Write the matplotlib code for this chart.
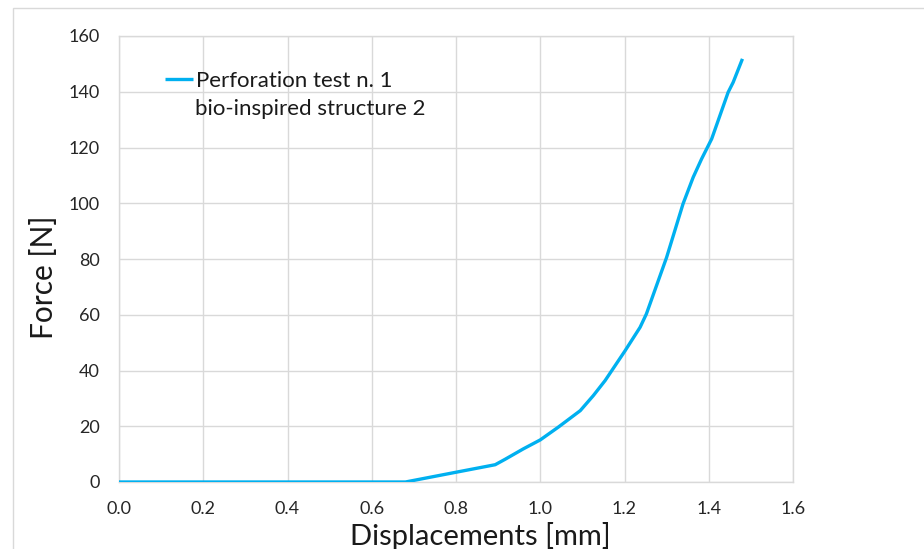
import matplotlib
matplotlib.use('Agg')
import matplotlib.pyplot as plt
from matplotlib.patches import Rectangle

# displacement [mm] and force [N]
disp = [0.0, 0.68, 0.80, 0.893, 0.916, 0.96, 1.0, 1.043, 1.095, 1.126,
        1.154, 1.201, 1.237, 1.252, 1.300, 1.339, 1.363, 1.383,
        1.395, 1.407, 1.446, 1.458, 1.48]
force = [0.0, 0.0, 3.5, 6.2, 8.1, 11.9, 15.1, 19.7, 25.6, 31.0,
         36.4, 47.0, 55.5, 60.3, 80.6, 99.8, 109.3, 115.9,
         119.5, 123.1, 139.8, 143.4, 151.8]
xticks = [0.0, 0.2, 0.4, 0.6, 0.8, 1.0, 1.2, 1.4, 1.6]
yticks = [0, 20, 40, 60, 80, 100, 120, 140, 160]

plt.rcParams['font.family'] = ['Lato', 'DejaVu Sans']
grey = '#d9d9d9'
blue = '#00b0f0'
ink = '#1a1a1a'

fig = plt.figure(figsize=(9.24, 5.49), dpi=100)
ax = fig.add_axes([119/924, 1 - 482/549, 674/924, 446/549])

# outer chart border (runs off the right/bottom of the image)
fig.patches.append(Rectangle((13/924, -0.1), 1.2, 1.1 - 8/549, transform=fig.transFigure,
                             fill=False, edgecolor=grey, lw=1.0))

ax.plot(disp, force, color=blue, lw=2.4, solid_capstyle='butt',
        solid_joinstyle='round', zorder=3, label='Perforation test n. 1')

ax.set_xlim(0, 1.6)
ax.set_ylim(0, 160)
ax.set_xticks(xticks)
ax.set_yticks(yticks)
ax.set_xticklabels([f'{v:.1f}' for v in xticks])
ax.set_yticklabels([str(v) for v in yticks])
ax.tick_params(length=0, labelsize=13, colors='#262626')
ax.tick_params(axis='y', pad=14)
ax.tick_params(axis='x', pad=14)
ax.grid(color=grey, lw=1.0, zorder=0)
for s in ax.spines.values():
    s.set_color(grey)
    s.set_linewidth(1.0)

# axis titles sit off-centre in the reference
ax.set_xlabel('Displacements [mm]', fontsize=21, color=ink, va='baseline')
ax.xaxis.set_label_coords((480 - 119) / 674, (482 - 545) / 446)
ax.set_ylabel('Force [N]', fontsize=21.5, color=ink, va='center')
ax.yaxis.set_label_coords((44 - 119) / 674, (482 - 277) / 446)

leg = ax.legend(loc='upper left', bbox_to_anchor=(0.068, 0.922), frameon=False,
                fontsize=16, handlelength=1.25, handletextpad=0.15, borderpad=0,
                borderaxespad=0)
for t in leg.get_texts():
    t.set_color(ink)
ax.text(0.1125, (482 - 115) / 446, 'bio-inspired structure 2', transform=ax.transAxes,
        fontsize=16, color=ink, va='baseline', ha='left')

fig.savefig('out.png', dpi=100)
